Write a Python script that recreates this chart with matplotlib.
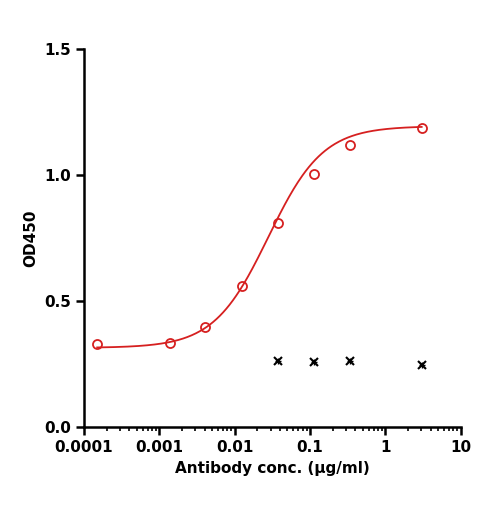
import numpy as np
import matplotlib
matplotlib.use('Agg')
import matplotlib.pyplot as plt
from matplotlib.ticker import LogLocator, NullFormatter

# measured data
conc = [1.49e-4, 1.37e-3, 4.1e-3, 0.0124, 0.0372, 0.112, 0.336, 3.03]
od = [0.33, 0.335, 0.397, 0.56, 0.81, 1.004, 1.12, 1.187]
neg_conc = [0.0372, 0.112, 0.336, 3.03]
neg_od = [0.262, 0.258, 0.262, 0.246]

# 4PL fit parameters
bottom, top, ec50, hill = 0.315, 1.195, 0.028, 1.2

fig = plt.figure(figsize=(4.85, 5.08), dpi=100)
ax = fig.add_axes([0.173, 0.159, 0.777, 0.744])

xs = np.logspace(np.log10(1.5e-4), np.log10(3.03), 300)
ys = bottom + (top - bottom) / (1 + (ec50 / xs) ** hill)
ax.plot(xs, ys, color='#d62020', lw=1.3)
ax.plot(conc, od, 'o', mfc='none', mec='#d62020', mew=1.3, ms=6.5)
ax.plot(neg_conc, neg_od, 'x', color='black', ms=6, mew=1.5)
ax.plot(neg_conc, neg_od, '+', color='black', ms=4, mew=1.0)

ax.set_xscale('log')
ax.set_xlim(1e-4, 10)
ax.set_ylim(0, 1.5)
ax.set_xticks([1e-4, 1e-3, 1e-2, 0.1, 1, 10])
ax.set_xticklabels(['0.0001', '0.001', '0.01', '0.1', '1', '10'])
ax.xaxis.set_minor_locator(LogLocator(base=10, subs=np.arange(2, 10), numticks=20))
ax.xaxis.set_minor_formatter(NullFormatter())
ax.set_yticks([0, 0.5, 1.0, 1.5])
ax.set_yticklabels(['0.0', '0.5', '1.0', '1.5'])

for s in ['top', 'right']:
    ax.spines[s].set_visible(False)
for s in ['left', 'bottom']:
    ax.spines[s].set_linewidth(1.8)
ax.tick_params(which='major', direction='out', length=6, width=1.8, labelsize=11)
ax.tick_params(which='minor', direction='out', length=3, width=1.2)
for lab in ax.get_xticklabels() + ax.get_yticklabels():
    lab.set_fontweight('bold')
ax.set_xlabel('Antibody conc. (µg/ml)', fontsize=11, fontweight='bold')
ax.set_ylabel('OD450', fontsize=11, fontweight='bold')

plt.savefig('out.png', dpi=100)
